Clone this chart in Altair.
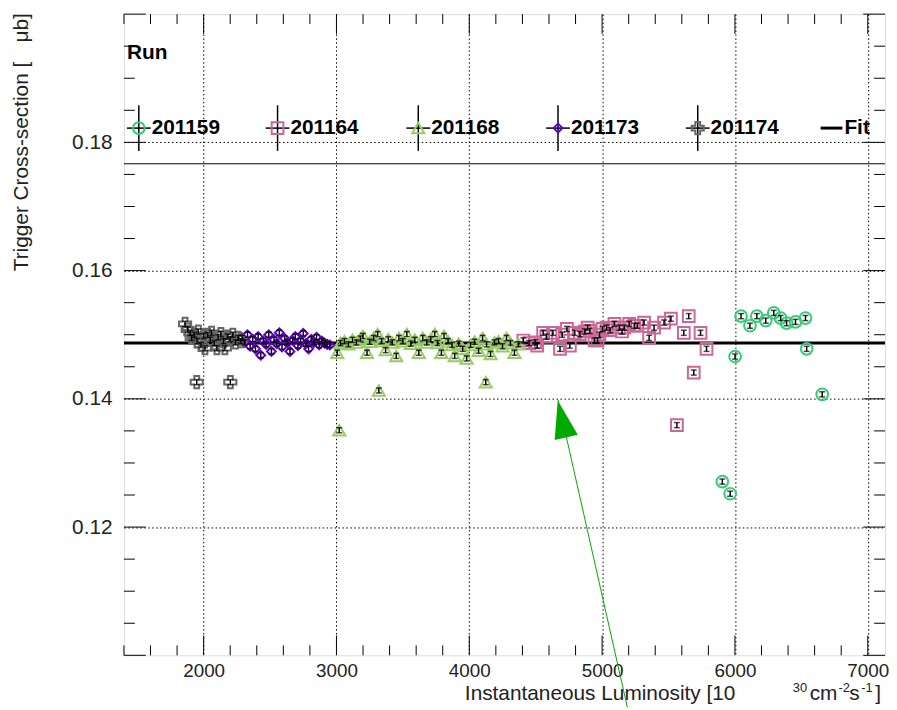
import altair as alt
import pandas as pd

# ---------------- data ----------------
runs = ["201159", "201164", "201168", "201173", "201174"]
colors = ["#33cc77", "#cc6699", "#99cc66", "#6600cc", "#666666"]
shapes = ["circle", "square", "triangle-up", "diamond", "cross"]
sizes = [140, 140, 150, 80, 150]

x_201159 = [5905, 5964, 6001, 6046, 6113, 6165, 6232, 6292, 6344, 6389, 6456, 6531, 6540, 6657]
y_201159 = [0.1271, 0.1252, 0.1466, 0.1529, 0.1514, 0.1529, 0.1522, 0.1534, 0.1526, 0.1518,
            0.1520, 0.1526, 0.1478, 0.1407]

x_201164 = [4407, 4450, 4496, 4511, 4556, 4580, 4630, 4683, 4700, 4735, 4757, 4794, 4832, 4870,
            4891, 4906, 4943, 4966, 4980, 5003, 5033, 5060, 5093, 5130, 5150, 5167, 5204, 5242,
            5264, 5316, 5354, 5391, 5466, 5518, 5563, 5615, 5652, 5690, 5741, 5786]
y_201164 = [0.1491, 0.1487, 0.1488, 0.1483, 0.1503, 0.1497, 0.1503, 0.1478, 0.1500, 0.1509,
            0.1483, 0.1503, 0.1501, 0.1505, 0.1511, 0.1506, 0.1491, 0.1491, 0.1500, 0.1509,
            0.1511, 0.1507, 0.1517, 0.1511, 0.1505, 0.1511, 0.1517, 0.1514, 0.1514, 0.1519,
            0.1495, 0.1511, 0.1519, 0.1525, 0.1359, 0.1503, 0.1529, 0.1441, 0.1503, 0.1478]

x_201168 = [3006, 3021, 3030, 3060, 3090, 3120, 3150, 3180, 3200, 3230, 3250, 3280, 3310, 3319,
            3340, 3370, 3390, 3420, 3450, 3470, 3500, 3530, 3560, 3590, 3620, 3650, 3680, 3710,
            3740, 3760, 3790, 3810, 3840, 3870, 3890, 3920, 3950, 3980, 4010, 4040, 4070, 4100,
            4124, 4130, 4160, 4190, 4220, 4250, 4280, 4310, 4340, 4370]
y_201168 = [0.1472, 0.1351, 0.1487, 0.1490, 0.1485, 0.1492, 0.1488, 0.1494, 0.1498, 0.1472,
            0.1489, 0.1495, 0.1501, 0.1413, 0.1490, 0.1476, 0.1493, 0.1488, 0.1467, 0.1495,
            0.1490, 0.1501, 0.1486, 0.1492, 0.1472, 0.1495, 0.1488, 0.1493, 0.1501, 0.1487,
            0.1472, 0.1498, 0.1490, 0.1484, 0.1467, 0.1486, 0.1478, 0.1463, 0.1484, 0.1489,
            0.1475, 0.1495, 0.1426, 0.1485, 0.1470, 0.1488, 0.1490, 0.1482, 0.1495, 0.1487,
            0.1472, 0.1485]

x_201173 = [2290, 2310, 2330, 2350, 2370, 2390, 2410, 2430, 2450, 2470, 2490, 2510, 2530, 2550,
            2570, 2590, 2610, 2630, 2650, 2670, 2690, 2710, 2730, 2750, 2770, 2790, 2810, 2830,
            2850, 2870, 2890, 2910, 2930, 2950]
y_201173 = [0.1495, 0.1488, 0.1500, 0.1482, 0.1493, 0.1478, 0.1497, 0.1468, 0.1490, 0.1485,
            0.1500, 0.1474, 0.1492, 0.1486, 0.1503, 0.1481, 0.1494, 0.1488, 0.1474, 0.1491,
            0.1497, 0.1483, 0.1490, 0.1502, 0.1486, 0.1478, 0.1493, 0.1488, 0.1496, 0.1484,
            0.1490, 0.1487, 0.1485, 0.1484]

x_201174 = [1860, 1880, 1900, 1910, 1930, 1948, 1950, 1960, 1980, 2000, 2010, 2030, 2050, 2060,
            2080, 2100, 2110, 2130, 2150, 2160, 2180, 2200, 2201, 2220, 2240, 2260, 2280]
y_201174 = [0.1517, 0.1508, 0.1503, 0.1495, 0.1500, 0.1426, 0.1490, 0.1505, 0.1484, 0.1498,
            0.1479, 0.1500, 0.1492, 0.1503, 0.1487, 0.1479, 0.1496, 0.1501, 0.1490, 0.1479,
            0.1497, 0.1493, 0.1426, 0.1500, 0.1488, 0.1495, 0.1490]

err = 0.0004
fit_value = 0.1487

x_major = [2000, 3000, 4000, 5000, 6000, 7000]
x_minor = [v for v in range(1400, 7130, 200) if v % 1000 != 0]
y_major = [0.12, 0.14, 0.16, 0.18]
y_minor = [round(0.1 + 0.005 * i, 3) for i in range(1, 20) if i % 4 != 0]

arrow_x = [5190, 4668]
arrow_y = [0.0919, 0.1398]

# ---------------- layout ----------------
W, H = 768, 647
FONT = "Liberation Sans"

series = [
    ("201159", x_201159, y_201159),
    ("201164", x_201164, y_201164),
    ("201168", x_201168, y_201168),
    ("201173", x_201173, y_201173),
    ("201174", x_201174, y_201174),
]
df = pd.concat([pd.DataFrame({"run": r, "x": xs, "y": ys}) for r, xs, ys in series],
               ignore_index=True)
df["order"] = range(len(df))
df["lo"] = df["y"] - err
df["hi"] = df["y"] + err
df["sz"] = df["run"].map(dict(zip(runs, sizes)))

xscale = alt.Scale(domain=[1400, 7130], nice=False, zero=False)
yscale = alt.Scale(domain=[0.1, 0.2], nice=False, zero=False)

xaxis = alt.Axis(values=x_major, grid=True, gridColor="#000", gridDash=[1.5, 2.5],
                 gridWidth=1, ticks=False, tickSize=0, domain=False, labelFont=FONT,
                 labelFontSize=19, labelColor="#222", labelPadding=6, format="d")
yaxis = alt.Axis(values=y_major, grid=True, gridColor="#000", gridDash=[1.5, 2.5],
                 gridWidth=1, ticks=False, tickSize=0, domain=False, labelFont=FONT,
                 labelFontSize=21, labelColor="#222", labelPadding=12, format=".2f")


def X(f):
    return alt.X(f, type="quantitative", scale=xscale, axis=xaxis, title=None)


def Y(f):
    return alt.Y(f, type="quantitative", scale=yscale, axis=yaxis, title=None)


base = alt.Chart(df)

points = base.mark_point(filled=False, strokeWidth=2, opacity=1).encode(
    x=X("x"),
    y=Y("y"),
    color=alt.Color("run:N", scale=alt.Scale(domain=runs, range=colors), legend=None),
    shape=alt.Shape("run:N", scale=alt.Scale(domain=runs, range=shapes), legend=None),
    size=alt.Size("sz:Q", scale=None, legend=None),
    order="order:Q",
)

ebar = base.mark_rule(color="black", strokeWidth=1.5).encode(x=X("x"), y=Y("lo"), y2="hi:Q")
cap_lo = base.mark_tick(color="black", orient="horizontal", size=6, thickness=1.5).encode(
    x=X("x"), y=Y("lo"))
cap_hi = base.mark_tick(color="black", orient="horizontal", size=6, thickness=1.5).encode(
    x=X("x"), y=Y("hi"))

fit = alt.Chart(pd.DataFrame({"y": [fit_value]})).mark_rule(color="black", strokeWidth=3).encode(
    y=Y("y"), x=alt.value(0), x2=alt.value(W))


# inward ticks (ROOT style) on all four sides
def xticks(vals, length):
    d = pd.DataFrame({"x": vals})
    b = alt.Chart(d).mark_rule(color="black", strokeWidth=1)
    return [b.encode(x=X("x"), y=alt.value(H), y2=alt.value(H - length)),
            b.encode(x=X("x"), y=alt.value(0), y2=alt.value(length))]


def yticks(vals, length):
    d = pd.DataFrame({"y": vals})
    b = alt.Chart(d).mark_rule(color="black", strokeWidth=1)
    return [b.encode(y=Y("y"), x=alt.value(0), x2=alt.value(length)),
            b.encode(y=Y("y"), x=alt.value(W), x2=alt.value(W - length))]


tick_layers = (xticks(x_major, 20) + xticks(x_minor, 10) +
               yticks(y_major + [0.1, 0.2], 22) + yticks(y_minor, 11))

# arrow annotation
arrow_df = pd.DataFrame({"x": arrow_x, "y": arrow_y, "o": [0, 1]})
arrow_line = alt.Chart(arrow_df).mark_line(color="#00aa00", strokeWidth=1, clip=False).encode(
    x=X("x"), y=Y("y"), order="o:Q")
arrow_head = alt.Chart(arrow_df.iloc[[1]]).mark_point(
    shape="M0,-1L0.63,1L-0.63,1Z", filled=True, color="#00aa00", opacity=1, size=1444,
    angle=347, yOffset=19, xOffset=4).encode(x=X("x"), y=Y("y"))

# legend (ROOT TLegend style, drawn inside the frame)
one = pd.DataFrame({"a": [0]})
leg_layers = []
leg_y = 115
leg_x = [15, 155, 297, 438, 579]
for i, r in enumerate(runs):
    mx = leg_x[i]
    leg_layers.append(alt.Chart(one).mark_rule(color="black", strokeWidth=1.5).encode(
        x=alt.value(mx), y=alt.value(leg_y - 23), y2=alt.value(leg_y + 23)))
    leg_layers.append(alt.Chart(one).mark_rule(color="black", strokeWidth=1.5).encode(
        x=alt.value(mx - 12), x2=alt.value(mx + 12), y=alt.value(leg_y)))
    leg_layers.append(alt.Chart(one).mark_point(
        shape=shapes[i], filled=False, color=colors[i], strokeWidth=2, opacity=1,
        size=sizes[i]).encode(x=alt.value(mx), y=alt.value(leg_y)))
    leg_layers.append(alt.Chart(one).mark_text(
        text=r, font=FONT, fontSize=21, fontWeight="bold", align="left", baseline="middle",
        color="black").encode(x=alt.value(mx + 13), y=alt.value(leg_y)))
leg_layers.append(alt.Chart(one).mark_rule(color="black", strokeWidth=3).encode(
    x=alt.value(703), x2=alt.value(725), y=alt.value(leg_y)))
leg_layers.append(alt.Chart(one).mark_text(
    text="Fit", font=FONT, fontSize=21, fontWeight="bold", align="left", baseline="middle",
    color="black").encode(x=alt.value(727), y=alt.value(leg_y)))
leg_layers.append(alt.Chart(one).mark_text(
    text="Run", font=FONT, fontSize=21, fontWeight="bold", align="left", baseline="middle",
    color="black").encode(x=alt.value(3), y=alt.value(39)))
leg_layers.append(alt.Chart(one).mark_rule(color="black", strokeWidth=1).encode(
    x=alt.value(0), x2=alt.value(W), y=alt.value(151)))


# axis titles (ROOT places them at the axis end)
def txt(t, x, y, size=21, align="left", angle=0, baseline="alphabetic"):
    return alt.Chart(one).mark_text(
        text=t, font=FONT, fontSize=size, align=align, baseline=baseline, color="#222",
        angle=angle).encode(x=alt.value(x), y=alt.value(y))


TB = 692   # baseline of x title, plot coordinates
SB = 684   # baseline of superscripts
title_layers = [
    txt("Instantaneous Luminosity [10", 617, TB, size=21, align="right"),
    txt("30", 675, SB, size=13),
    txt("cm", 692, TB, size=21),
    txt("-2", 721, SB, size=13),
    txt("s", 732, TB, size=21),
    txt("-1", 744, SB, size=13),
    txt("]", 758, TB, size=21),
    txt("Trigger Cross-section [", -103, 48, align="right", angle=270, baseline="middle"),
    txt("μb]", -103, -1, align="right", angle=270, baseline="middle"),
]

chart = alt.layer(
    fit, points, ebar, cap_lo, cap_hi, *tick_layers, *leg_layers, *title_layers,
    arrow_line, arrow_head,
).properties(
    width=W, height=H,
    autosize=alt.AutoSizeParams(type="none"),
    padding={"left": 117, "top": 3, "right": 4, "bottom": 52},
).configure_view(stroke="black", strokeWidth=1.5).configure(background="white")

chart.save("out.html", embed_options={"renderer": "svg", "actions": False})
